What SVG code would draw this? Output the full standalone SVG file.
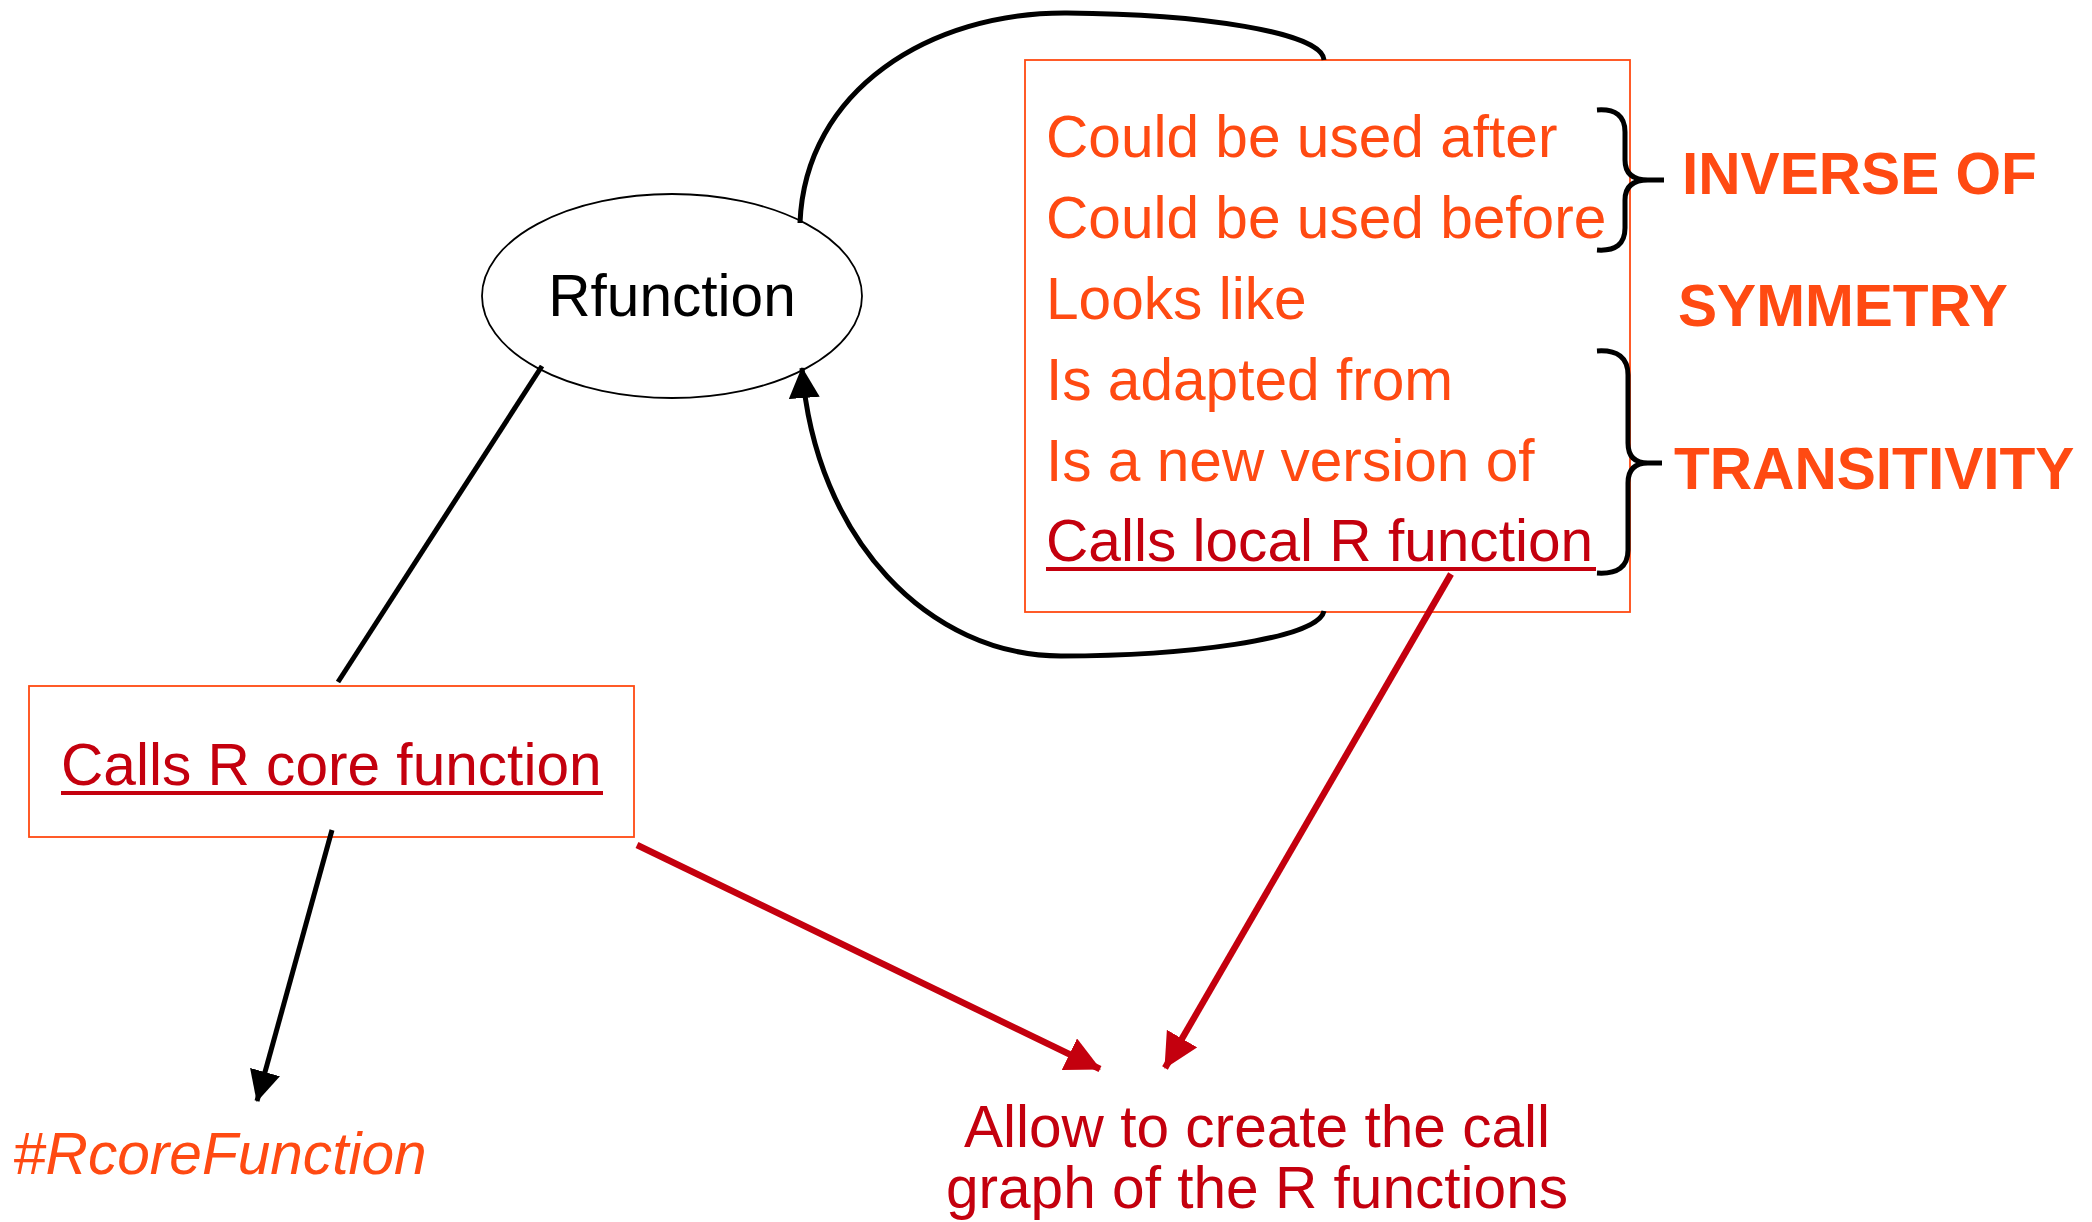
<svg xmlns="http://www.w3.org/2000/svg" width="2092" height="1222" viewBox="0 0 2092 1222">
<style>
  text { font-family: "Liberation Sans", Arial, sans-serif; font-size: 58.6px; }
  .or { fill: #FF4A12; }
  .dr { fill: #C4000E; }
  .bold { font-weight: bold; }
  .box { fill: #FFFFFF; stroke: #FF4A12; stroke-width: 1.8; }
  .blk { fill: none; stroke: #000; stroke-width: 5; }
  .red { fill: none; stroke: #C4000E; stroke-width: 6.5; }
  .ul { stroke: #C4000E; stroke-width: 4; }
</style>
<defs>
  <marker id="ab" markerUnits="userSpaceOnUse" markerWidth="31" markerHeight="31" refX="30" refY="15.5" orient="auto">
    <path d="M0,0 L31,15.5 L0,31 Z" fill="#000"/>
  </marker>
  <marker id="ar" markerUnits="userSpaceOnUse" markerWidth="35" markerHeight="35" refX="34" refY="17.5" orient="auto">
    <path d="M0,0 L35,17.5 L0,35 Z" fill="#C4000E"/>
  </marker>
</defs>
<rect width="2092" height="1222" fill="#FFFFFF"/>

<g id="rfunction">
  <ellipse cx="672" cy="296" rx="190" ry="102" fill="#FFFFFF" stroke="#000" stroke-width="1.8"/>
  <text x="672" y="316" text-anchor="middle" fill="#000">Rfunction</text>
</g>

<g id="relations">
  <rect class="box" x="1025" y="60" width="605" height="552"/>
  <text class="or" x="1046" y="157">Could be used after</text>
  <text class="or" x="1046" y="238">Could be used before</text>
  <text class="or" x="1046" y="319">Looks like</text>
  <text class="or" x="1046" y="400">Is adapted from</text>
  <text class="or" x="1046" y="481">Is a new version of</text>
  <text class="dr" x="1046" y="561">Calls local R function</text>
  <line class="ul" x1="1046" y1="569" x2="1596" y2="569"/>
</g>

<g id="brace-inverse">
  <path class="blk" d="M1597,110 Q1625,108 1625,132 L1625,160 Q1625,180 1648,180 L1664,180 M1648,180 Q1625,180 1625,200 L1625,228 Q1625,252 1597,250"/>
  <text class="or bold" x="1682" y="194">INVERSE OF</text>
</g>

<g id="symmetry">
  <text class="or bold" x="1678" y="326">SYMMETRY</text>
</g>

<g id="brace-transitivity">
  <path class="blk" d="M1597,351 Q1628,349 1628,375 L1628,443 Q1628,463 1648,463 L1662,463 M1648,463 Q1628,463 1628,483 L1628,550 Q1628,575 1597,573"/>
  <text class="or bold" x="1674" y="489">TRANSITIVITY</text>
</g>

<g id="core">
  <rect class="box" x="29" y="686" width="605" height="151"/>
  <text class="dr" x="61" y="785">Calls R core function</text>
  <line class="ul" x1="61" y1="793" x2="603" y2="793"/>
</g>

<g id="rcorefunction">
  <text class="or" x="13" y="1174" font-style="italic">#RcoreFunction</text>
</g>

<g id="callgraph">
  <text class="dr" x="1257" y="1147" text-anchor="middle">Allow to create the call</text>
  <text class="dr" x="1257" y="1208" text-anchor="middle">graph of the R functions</text>
</g>

<g id="connectors">
  <path class="blk" d="M800,223 C805,90 930,12 1067,13 C1200,14 1322,32 1324,60"/>
  <path class="blk" d="M1324,611 C1318,640 1180,656 1061,656 C930,656 815,540 802,368" marker-end="url(#ab)"/>
  <line class="blk" x1="542" y1="366" x2="338" y2="682"/>
  <line class="blk" x1="332" y1="830" x2="257" y2="1101" marker-end="url(#ab)"/>
  <line class="red" x1="637" y1="845" x2="1100" y2="1069" marker-end="url(#ar)"/>
  <line class="red" x1="1451" y1="574" x2="1165" y2="1068" marker-end="url(#ar)"/>
</g>
</svg>
